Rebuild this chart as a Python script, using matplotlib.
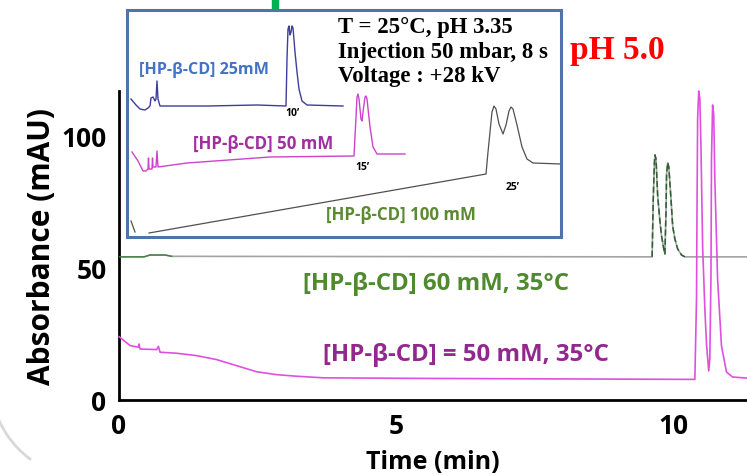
import matplotlib
matplotlib.use("Agg")
import matplotlib.pyplot as plt
from matplotlib.patches import Rectangle, Arc

# ---------------- main chart data (time in min, absorbance in mAU) ----------------
t_50mM = [0.00, 0.20, 0.35, 0.36, 0.38, 0.68, 0.71, 0.74, 1.04, 1.40, 1.76, 2.12, 2.48, 2.84,
          3.20, 3.68, 5.24, 7.77, 10.38, 10.41, 10.42, 10.43, 10.45, 10.47, 10.49, 10.52,
          10.56, 10.59, 10.63, 10.65, 10.67, 10.68, 10.70, 10.72, 10.74, 10.79, 10.86,
          10.95, 11.06, 11.32]
a_50mM = [24.0, 20.6, 20.0, 21.2, 19.3, 19.1, 20.3, 18.1, 17.7, 16.8, 15.3, 13.0, 10.7, 9.6,
          9.0, 8.4, 8.2, 8.0, 7.8, 38.3, 76.1, 106.4, 117.0, 114.0, 96.2, 58.3,
          34.5, 21.2, 11.0, 15.5, 45.8, 91.3, 111.7, 108.3, 83.7, 45.8, 20.5,
          10.6, 8.7, 8.3]

t_60mM = [0.00, 0.45, 0.56, 0.83, 0.95, 9.61, 9.63, 9.65, 9.66, 9.68, 9.71, 9.75, 9.78,
          9.82, 9.84, 9.86, 9.87, 9.89, 9.91, 9.95, 9.98, 10.02, 10.07, 10.14, 10.20, 11.32]
a_60mM = [54.2, 54.2, 54.9, 54.9, 54.4, 54.2, 76.1, 89.4, 92.8, 91.3, 77.3, 67.8, 62.1,
          57.2, 55.3, 71.2, 85.6, 89.8, 88.3, 76.1, 65.9, 61.0, 57.2, 54.9, 54.2, 54.2]

x_ticks = [0, 5, 10]
y_ticks = [0, 50, 100]

# ---------------- inset data (arbitrary units of the inset picture) ----------------
ins_25_x = [4, 9, 13, 18, 21, 23, 24, 26, 28, 29, 30, 31, 33, 80, 130, 159, 160, 161, 162,
            163, 164, 165, 166, 168, 170, 172, 175, 180, 216]
ins_25_y = [138, 132, 128, 127, 129, 131, 139, 140, 136, 138, 156, 138, 131, 131, 132, 131,
            178, 208, 211, 202, 205, 211, 209, 185, 165, 148, 136, 132, 131]

ins_50_x = [5, 11, 16, 19, 21, 21.5, 22, 25, 25.5, 26, 29, 30, 31, 60, 143, 227, 229, 230,
            231, 232, 234, 235, 236, 238, 239, 240, 243, 246, 250, 278]
ins_50_y = [85, 76, 66, 66, 68, 79, 68, 68, 79, 70, 70, 86, 70, 74, 80, 81, 120, 140,
            143, 138, 118, 116, 125, 140, 141, 138, 110, 90, 83, 83]

ins_100_x = [22, 359, 361, 363, 365, 367, 369, 372, 376, 379, 382, 384, 386, 390, 395, 400,
             406, 434]
ins_100_y = [4, 63, 85, 105, 125, 131, 128, 113, 103, 112, 126, 130, 128, 112, 90, 78,
             74, 73]
ins_100_start_x = [4, 8]
ins_100_start_y = [16, 5]

SANS = "Open Sans"
SERIF = "Liberation Serif"

fig = plt.figure(figsize=(7.47, 4.77), dpi=100)
fig.patch.set_facecolor("white")

# ---------------- main axes ----------------
ax = fig.add_axes([119 / 747, 76 / 477, 628 / 747, 309 / 477])
ax.set_xlim(0, 11.32)
ax.set_ylim(0, 117)
for s in ["top", "right"]:
    ax.spines[s].set_visible(False)
for s in ["left", "bottom"]:
    ax.spines[s].set_linewidth(2.0)
    ax.spines[s].set_color("black")

ax.plot(t_60mM, a_60mM, color="#a3a3a3", lw=1.2, zorder=2)
ax.plot(t_60mM[:5], a_60mM[:5], color="#3f7f3f", lw=1.0, zorder=3)
ax.plot(t_60mM[5:25], a_60mM[5:25], color="#2f5f2f", lw=1.1, ls=(0, (4, 2)), zorder=3)
ax.plot(t_50mM, a_50mM, color="#e050e0", lw=1.2, zorder=4, clip_on=False)

ax.set_xticks(x_ticks)
ax.set_yticks(y_ticks)
ax.tick_params(length=0, labelsize=19)
ax.tick_params(axis="y", pad=9)
ax.tick_params(axis="x", pad=9)
for lab in ax.get_xticklabels() + ax.get_yticklabels():
    lab.set_fontfamily(SANS)
    lab.set_fontweight("bold")
ax.set_xlabel("Time (min)", fontsize=18, fontweight="bold", family=SANS, labelpad=7)
ax.set_ylabel("Absorbance (mAU)", fontsize=21.5, fontweight="bold", family=SANS, labelpad=3)

ax.text(3.32, 44.3, "[HP-β-CD] 60 mM, 35°C", color="#4f8a2f", fontsize=17.3,
        fontweight="bold", family=SANS, ha="left", va="center")
ax.text(3.68, 17.4, "[HP-β-CD] = 50 mM, 35°C", color="#92278f", fontsize=17.3,
        fontweight="bold", family=SANS, ha="left", va="center")

fig.text(570 / 747, 1 - 50 / 477, "pH 5.0", color="#ff0000", fontsize=24,
         fontweight="bold", family=SERIF, ha="left", va="center")

# green fragment at top edge
fig.patches.append(Rectangle((272 / 747, 1 - 10 / 477), 6 / 747, 10 / 477,
                             transform=fig.transFigure, color="#00b050", zorder=5))
# faint rounded corner at bottom left
fig.patches.append(Arc((90 / 747, 1 - 380 / 477), 200 / 747, 200 / 477, theta1=200,
                       theta2=245, transform=fig.transFigure, color="#d8d8d8", lw=2))

# ---------------- inset ----------------
ins = fig.add_axes([127 / 747, 239 / 477, 434 / 747, 227 / 477], zorder=6)
ins.set_facecolor("white")
ins.set_xlim(0, 434)
ins.set_ylim(0, 227)
ins.set_xticks([])
ins.set_yticks([])
for s in ins.spines.values():
    s.set_color("#4f74a8")
    s.set_linewidth(2.2)

ins.plot(ins_25_x, ins_25_y, color="#3d3d9a", lw=1.0)
ins.plot(ins_50_x, ins_50_y, color="#cc44cc", lw=1.0)
ins.plot(ins_100_x, ins_100_y, color="#505050", lw=0.9)
ins.plot(ins_100_start_x, ins_100_start_y, color="#505050", lw=0.9)

ins.text(12, 168, "[HP-β-CD] 25mM", color="#4472c4", fontsize=11.6, fontweight="bold",
         family=SANS, ha="left", va="center")
ins.text(66, 94, "[HP-β-CD] 50 mM", color="#a02fa0", fontsize=12.2, fontweight="bold",
         family=SANS, ha="left", va="center")
ins.text(199, 23, "[HP-β-CD] 100 mM", color="#5a8a32", fontsize=12.2, fontweight="bold",
         family=SANS, ha="left", va="center")
ins.text(165, 124, "10’", fontsize=7.5, fontweight="bold", family=SANS, ha="center", va="center")
ins.text(235, 71, "15’", fontsize=7.5, fontweight="bold", family=SANS, ha="center", va="center")
ins.text(386, 51, "25’", fontsize=7.5, fontweight="bold", family=SANS, ha="center", va="center")

for yy, txt in [(211, "T = 25°C, pH 3.35"), (186, "Injection 50 mbar, 8 s"),
                (162, "Voltage : +28 kV")]:
    ins.text(211, yy, txt, fontsize=16.4, fontweight="bold", family=SERIF,
             ha="left", va="center", color="black")

fig.savefig("out.png", dpi=100)
